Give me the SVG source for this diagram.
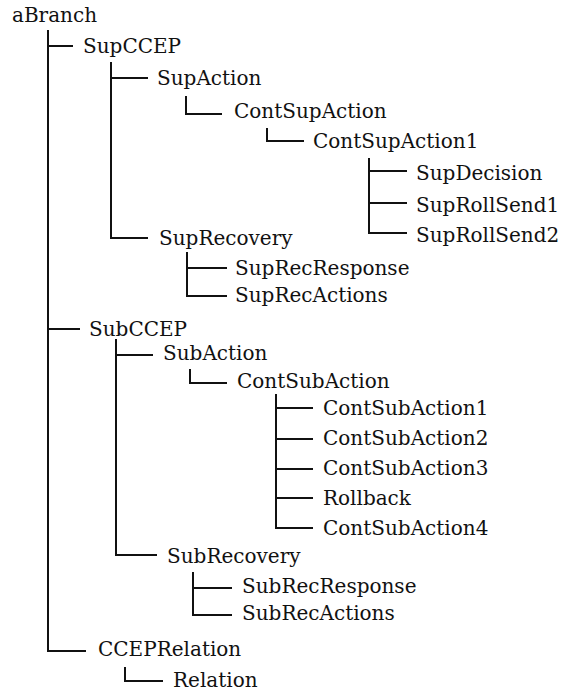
<svg xmlns="http://www.w3.org/2000/svg" width="566" height="693" viewBox="0 0 566 693">
<style>
.t{font-family:"DejaVu Serif","Liberation Serif",serif;font-size:20px;fill:#111}
.c{fill:none;stroke:#111;stroke-width:2}
</style>
<rect width="566" height="693" fill="#fff"/>
<g id="connectors" class="c">
<path d="M48 30V651H86"/>
<path d="M48 46H73"/>
<path d="M111 62V238H148M111 78H148"/>
<path d="M186 96V114H222"/>
<path d="M267 128V141H304"/>
<path d="M369 158V233H407M369 171H407M369 203H407"/>
<path d="M187 252V296H227M187 268H227"/>
<path d="M48 329H80"/>
<path d="M116 339V555H157M116 355H153"/>
<path d="M190 369V383H227"/>
<path d="M276 394V528H313M276 408H313M276 439H313M276 469H313M276 498H313"/>
<path d="M193 572V615H232M193 588H232"/>
<path d="M125 667V681H163"/>
</g>
<g id="aBranch"><text class="t" x="12" y="22">aBranch</text></g>
<g id="SupCCEP"><text class="t" x="83" y="53">SupCCEP</text></g>
<g id="SupAction"><text class="t" x="157" y="85">SupAction</text></g>
<g id="ContSupAction"><text class="t" x="234" y="118">ContSupAction</text></g>
<g id="ContSupAction1"><text class="t" x="313" y="148">ContSupAction1</text></g>
<g id="SupDecision"><text class="t" x="416" y="180">SupDecision</text></g>
<g id="SupRollSend1"><text class="t" x="416" y="212">SupRollSend1</text></g>
<g id="SupRollSend2"><text class="t" x="416" y="242">SupRollSend2</text></g>
<g id="SupRecovery"><text class="t" x="159" y="245">SupRecovery</text></g>
<g id="SupRecResponse"><text class="t" x="235" y="275">SupRecResponse</text></g>
<g id="SupRecActions"><text class="t" x="235" y="302">SupRecActions</text></g>
<g id="SubCCEP"><text class="t" x="89" y="336">SubCCEP</text></g>
<g id="SubAction"><text class="t" x="163" y="360">SubAction</text></g>
<g id="ContSubAction"><text class="t" x="237" y="388">ContSubAction</text></g>
<g id="ContSubAction1"><text class="t" x="323" y="415">ContSubAction1</text></g>
<g id="ContSubAction2"><text class="t" x="323" y="445">ContSubAction2</text></g>
<g id="ContSubAction3"><text class="t" x="323" y="475">ContSubAction3</text></g>
<g id="Rollback"><text class="t" x="323" y="505">Rollback</text></g>
<g id="ContSubAction4"><text class="t" x="323" y="535">ContSubAction4</text></g>
<g id="SubRecovery"><text class="t" x="167" y="563">SubRecovery</text></g>
<g id="SubRecResponse"><text class="t" x="242" y="593">SubRecResponse</text></g>
<g id="SubRecActions"><text class="t" x="242" y="620">SubRecActions</text></g>
<g id="CCEPRelation"><text class="t" x="98" y="656">CCEPRelation</text></g>
<g id="Relation"><text class="t" x="173" y="687">Relation</text></g>
</svg>
